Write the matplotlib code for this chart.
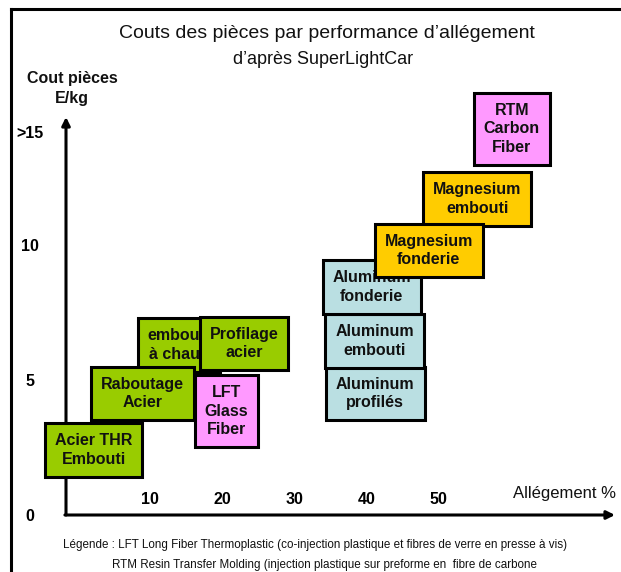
import matplotlib
matplotlib.use("Agg")
import matplotlib.pyplot as plt
from matplotlib import font_manager
from matplotlib.lines import Line2D

# Parts: label, weight saving (%), cost (EUR/kg), material family
labels = [
    "embouti\nà chaud",
    "Raboutage\nAcier",
    "Acier THR\nEmbouti",
    "Profilage\nacier",
    "LFT\nGlass\nFiber",
    "Aluminum\nprofilés",
    "Aluminum\nembouti",
    "Aluminum\nfonderie",
    "Magnesium\nembouti",
    "Magnesium\nfonderie",
    "RTM\nCarbon\nFiber",
]
allegement = [14.0, 8.9, 2.2, 23.0, 20.6, 41.2, 41.1, 40.7, 55.3, 48.6, 60.1]
cout = [6.3, 4.5, 2.4, 6.35, 3.85, 4.5, 6.45, 8.45, 11.7, 9.8, 14.3]
famille = ["acier", "acier", "acier", "acier", "composite",
           "alu", "alu", "alu", "mg", "mg", "composite"]

x_ticks = [10, 20, 30, 40, 50]
y_ticks = [0, 5, 10, 14.2]
y_ticklabels = ["0", "5", "10", ">15"]

couleurs = {"acier": "#99CC00", "composite": "#FF99FF",
            "alu": "#BADFE2", "mg": "#FFCC00"}

plt.rcParams["font.family"] = ["Liberation Sans", "DejaVu Sans"]

# narrow face for the footnote if it is there
try:
    font_manager.findfont("Liberation Sans Narrow", fallback_to_default=False)
    narrow = dict(family=["Liberation Sans Narrow", "DejaVu Sans"], size=10)
except Exception:
    narrow = dict(family=["Liberation Sans", "DejaVu Sans"], size=8.4)

W, H = 621, 572
fig = plt.figure(figsize=(W / 100, H / 100), dpi=100)
fig.patch.set_facecolor("white")
ax = fig.add_axes([66 / W, 1 - 515 / H, (615 - 66) / W, (515 - 117) / H])
ax.set_xlim(-1.66, 74.4)
ax.set_ylim(0, 14.74)
for s in ax.spines.values():
    s.set_visible(False)
ax.patch.set_alpha(0)

# axes drawn as arrows
arrow = dict(arrowstyle="-|>", lw=2.2, color="black", mutation_scale=12,
             shrinkA=0, shrinkB=0)
ax.annotate("", xy=(0, 1), xytext=(0, 0), xycoords="axes fraction",
            arrowprops=arrow, zorder=1)
ax.annotate("", xy=(1, 0), xytext=(-0.002, 0), xycoords="axes fraction",
            arrowprops=arrow, zorder=1)

ax.set_xticks(x_ticks)
ax.set_xticklabels([str(t) for t in x_ticks], fontsize=11.5, fontweight="bold")
ax.tick_params(axis="x", length=0, pad=-11.5)
for t in ax.get_xticklabels():
    t.set_va("center")
ax.set_yticks(y_ticks)
ax.set_yticklabels(y_ticklabels, fontsize=11.5, fontweight="bold")
ax.tick_params(axis="y", length=0, pad=26)
for t in ax.get_yticklabels():
    t.set_ha("center")

# one box per part, later ones on top
for i, (lab, x, y, f) in enumerate(zip(labels, allegement, cout, famille)):
    ax.text(x, y, lab, ha="center", va="center", fontsize=11.5,
            fontweight="bold", color="#111111", linespacing=1.3,
            zorder=2 + i,
            bbox=dict(boxstyle="square,pad=0.62", facecolor=couleurs[f],
                      edgecolor="black", linewidth=2.2))

ax.text(60.2, 0.8, "Allégement %", fontsize=12, ha="left", va="center",
        color="#111111", clip_on=False)

fig.text(72 / W, 1 - 88.5 / H, "Cout pièces\nE/kg", ha="center", va="center",
         fontsize=11.5, fontweight="bold", linespacing=1.4, color="#111111")

fig.text(326.5 / W, 1 - 33 / H, "Couts des pièces par performance d’allégement",
         ha="center", va="center", fontsize=14, color="#111111")
fig.text(323 / W, 1 - 60 / H, "d’après SuperLightCar",
         ha="center", va="center", fontsize=13, color="#111111")

fig.text(315 / W, 1 - 545 / H,
         "Légende : LFT Long Fiber Thermoplastic (co-injection plastique et fibres de verre en presse à vis)",
         ha="center", va="center", color="#111111", **narrow)
fig.text(324.5 / W, 1 - 565 / H,
         "RTM Resin Transfer Molding (injection plastique sur preforme en  fibre de carbone",
         ha="center", va="center", color="#111111", **narrow)

# frame
fig.add_artist(Line2D([11 / W, 11 / W], [0, 1 - 8.5 / H], transform=fig.transFigure,
                      lw=2.2, color="black"))
fig.add_artist(Line2D([11 / W, 1], [1 - 8.5 / H, 1 - 8.5 / H],
                      transform=fig.transFigure, lw=2.2, color="black"))

fig.savefig("out.png", dpi=100, facecolor="white")
